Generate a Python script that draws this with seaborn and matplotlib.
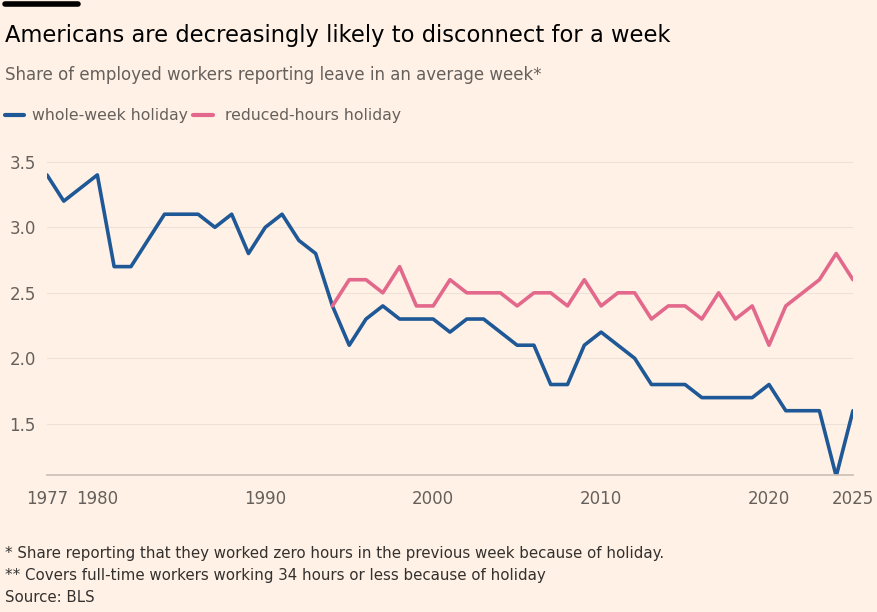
import matplotlib
matplotlib.use("Agg")
import matplotlib.pyplot as plt
import seaborn as sns
import pandas as pd

# values
years = list(range(1977, 2026))
whole_week = [3.4, 3.2, 3.3, 3.4, 2.7, 2.7, 2.9, 3.1, 3.1, 3.1, 3.0, 3.1, 2.8, 3.0, 3.1, 2.9, 2.8,
              2.4, 2.1, 2.3, 2.4, 2.3, 2.3, 2.3, 2.2, 2.3, 2.3, 2.2, 2.1, 2.1, 1.8, 1.8, 2.1, 2.2,
              2.1, 2.0, 1.8, 1.8, 1.8, 1.7, 1.7, 1.7, 1.7, 1.8, 1.6, 1.6, 1.6, 1.1, 1.6]
reduced_years = list(range(1994, 2026))
reduced_hours = [2.4, 2.6, 2.6, 2.5, 2.7, 2.4, 2.4, 2.6, 2.5, 2.5, 2.5, 2.4, 2.5, 2.5, 2.4, 2.6,
                 2.4, 2.5, 2.5, 2.3, 2.4, 2.4, 2.3, 2.5, 2.3, 2.4, 2.1, 2.4, 2.5, 2.6, 2.8, 2.6]
xticks = [1977, 1980, 1990, 2000, 2010, 2020, 2025]
yticks = [1.5, 2.0, 2.5, 3.0, 3.5]

bg = "#FFF1E5"
blue = "#1F5896"
pink = "#E3698C"

sns.set_theme(style="white")
plt.rcParams['font.family'] = ['DejaVu Sans']

df_w = pd.DataFrame({"year": years, "value": whole_week})
df_r = pd.DataFrame({"year": reduced_years, "value": reduced_hours})

fig = plt.figure(figsize=(8.78, 6.12), dpi=100, facecolor=bg)
ax = fig.add_axes([0.0535, 0.224, 0.918, 0.533], facecolor=bg)

sns.lineplot(data=df_w, x="year", y="value", ax=ax, color=blue, linewidth=2.6)
sns.lineplot(data=df_r, x="year", y="value", ax=ax, color=pink, linewidth=2.6)

ax.set_xlim(1977, 2025)
ax.set_ylim(1.11, 3.6)
ax.set_yticks(yticks)
ax.set_yticklabels([f"{v:.1f}" for v in yticks], fontsize=12, color="#66605C")
for lab in ax.get_yticklabels():
    lab.set_horizontalalignment("left")
ax.tick_params(axis="y", length=0, pad=27)
ax.set_xticks(xticks)
ax.set_xticklabels([str(v) for v in xticks], fontsize=12, color="#66605C")
ax.set_xticks(years, minor=True)
ax.tick_params(axis="x", which="both", length=5, color="#CCC1B7", pad=6)
ax.grid(axis="y", color="#EDE2D8", linewidth=0.8)
ax.set_axisbelow(True)
ax.set_xlabel("")
ax.set_ylabel("")
for s in ["top", "right", "left"]:
    ax.spines[s].set_visible(False)
ax.spines["bottom"].set_color("#CCC1B7")

# header
fig.add_artist(plt.Line2D([0.006, 0.089], [0.993, 0.993], color="black", linewidth=4))
fig.text(0.006, 0.942, "Americans are decreasingly likely to disconnect for a week",
         fontsize=16.3, color="black", va="center")
fig.text(0.006, 0.878, "Share of employed workers reporting leave in an average week*",
         fontsize=12, color="#66605C", va="center")
fig.add_artist(plt.Line2D([0.006, 0.027], [0.812, 0.812], color=blue, linewidth=3))
fig.text(0.037, 0.812, "whole-week holiday", fontsize=11.3, color="#66605C", va="center")
fig.add_artist(plt.Line2D([0.220, 0.243], [0.812, 0.812], color=pink, linewidth=3))
fig.text(0.256, 0.812, "reduced-hours holiday", fontsize=11.3, color="#66605C", va="center")

# footer
fig.text(0.006, 0.096, "* Share reporting that they worked zero hours in the previous week because of holiday.",
         fontsize=10.8, color="#33302E", va="center")
fig.text(0.006, 0.060, "** Covers full-time workers working 34 hours or less because of holiday",
         fontsize=10.8, color="#33302E", va="center")
fig.text(0.006, 0.024, "Source: BLS", fontsize=10.8, color="#33302E", va="center")

fig.savefig("out.png", dpi=100, facecolor=bg)
